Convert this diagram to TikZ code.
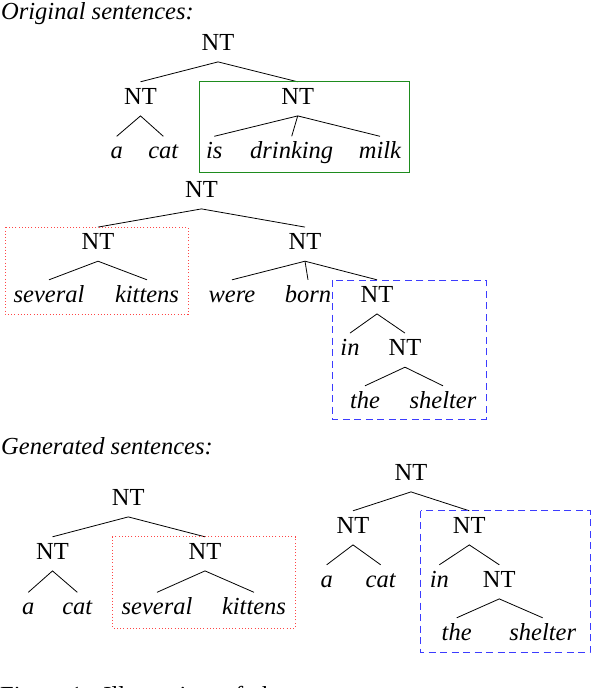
\documentclass[tikz,border=0pt]{standalone}
\usepackage{fontspec}
\setmainfont{Liberation Serif}
\newfontfamily\timesfont{Liberation Serif}
\definecolor{boxgreen}{RGB}{30,140,30}
\definecolor{boxred}{RGB}{255,70,70}
\definecolor{boxblue}{RGB}{60,60,255}
\begin{document}
\begin{tikzpicture}[x=1pt,y=-1pt,
  every node/.style={font=\timesfont\fontsize{24.5}{29}\selectfont},
  tn/.style={inner sep=0pt, text height=22pt, text depth=11.7pt, anchor=base},
  wd/.style={tn, font=\timesfont\fontsize{24.5}{29}\selectfont\itshape},
  lbl/.style={inner sep=0pt, anchor=base west, font=\timesfont\fontsize{24.5}{29}\selectfont\itshape},
  edge/.style={line width=0.8pt},
  greenbox/.style={draw=boxgreen, line width=0.9pt},
  redbox/.style={draw=boxred, line width=0.9pt, dash pattern=on 1pt off 2.2pt},
  bluebox/.style={draw=boxblue, line width=0.9pt, dash pattern=on 7pt off 4.5pt}]
\useasboundingbox (0,0) rectangle (592,688);

% ---------- Original sentences ----------
\node[lbl] (orig) at (1,19.5) {Original sentences:};

% tree 1
\node[tn] (a0) at (218,50) {NT};
\node[tn] (a1) at (140.5,104) {NT};
\node[tn] (a2) at (297.7,104) {NT};
\node[wd] (aa) at (116.7,158.5) {a};
\node[wd] (acat) at (163.3,158.5) {cat};
\node[wd] (ais) at (214.3,158.5) {is};
\node[wd] (adr) at (291.7,158.5) {drinking};
\node[wd] (amilk) at (380,158.5) {milk};
\draw[edge] (a1.north) -- (a0.south) -- (a2.north);
\draw[edge] (aa.north) -- (a1.south) -- (acat.north);
\draw[edge] (ais.north) -- (a2.south) -- (amilk.north);
\draw[edge] (a2.south) -- (adr.north);
\draw[greenbox] (199,81.7) rectangle (409.3,172.3);

% tree 2
\node[tn] (b0) at (201.5,197) {NT};
\node[tn] (b1) at (98,249.3) {NT};
\node[tn] (b2) at (305,249.3) {NT};
\node[wd] (bsev) at (49,302) {several};
\node[wd] (bkit) at (147,302) {kittens};
\node[wd] (bwere) at (232,302) {were};
\node[wd] (bborn) at (308,302) {born};
\node[tn] (b3) at (377,302) {NT};
\node[wd] (bin) at (350,355.3) {in};
\node[tn] (b4) at (405,355.3) {NT};
\node[wd] (bthe) at (365,408) {the};
\node[wd] (bshel) at (443,408) {shelter};
\draw[edge] (b1.north) -- (b0.south) -- (b2.north);
\draw[edge] (bsev.north) -- (b1.south) -- (bkit.north);
\draw[edge] (bwere.north) -- (b2.south) -- (b3.north);
\draw[edge] (b2.south) -- (bborn.north);
\draw[edge] (bin.north) -- (b3.south) -- (b4.north);
\draw[edge] (bthe.north) -- (b4.south) -- (bshel.north);
\draw[redbox] (5,227.3) rectangle (188,314);
\draw[bluebox] (332.7,280) rectangle (486,419.3);

% ---------- Generated sentences ----------
\node[lbl] (gen) at (1,454) {Generated sentences:};

% tree 3
\node[tn] (c0) at (128.3,505) {NT};
\node[tn] (c1) at (52.5,559) {NT};
\node[tn] (c2) at (205,559) {NT};
\node[wd] (ca) at (28.3,614.5) {a};
\node[wd] (ccat) at (77.3,614.5) {cat};
\node[wd] (csev) at (157,614.5) {several};
\node[wd] (ckit) at (254,614.5) {kittens};
\draw[edge] (c1.north) -- (c0.south) -- (c2.north);
\draw[edge] (ca.north) -- (c1.south) -- (ccat.north);
\draw[edge] (csev.north) -- (c2.south) -- (ckit.north);
\draw[redbox] (112.3,536.7) rectangle (295,628);

% tree 4
\node[tn] (d0) at (411,480) {NT};
\node[tn] (d1) at (353,533) {NT};
\node[tn] (d2) at (469.3,533) {NT};
\node[wd] (da) at (326.7,587) {a};
\node[wd] (dcat) at (380.7,587) {cat};
\node[wd] (din) at (439.3,587) {in};
\node[tn] (d3) at (499.3,587) {NT};
\node[wd] (dthe) at (456.7,640) {the};
\node[wd] (dshel) at (542.7,640) {shelter};
\draw[edge] (d1.north) -- (d0.south) -- (d2.north);
\draw[edge] (da.north) -- (d1.south) -- (dcat.north);
\draw[edge] (din.north) -- (d2.south) -- (d3.north);
\draw[edge] (dthe.north) -- (d3.south) -- (dshel.north);
\draw[bluebox] (420.7,510.7) rectangle (590,652.3);

% caption (cut off at the bottom edge, as in the reference)
\node[inner sep=0pt, anchor=base west] (cap) at (0,703) {Figure 1:\hspace{14pt}Illustration\hspace{12pt}of\hspace{12pt}the};
\end{tikzpicture}
\end{document}
